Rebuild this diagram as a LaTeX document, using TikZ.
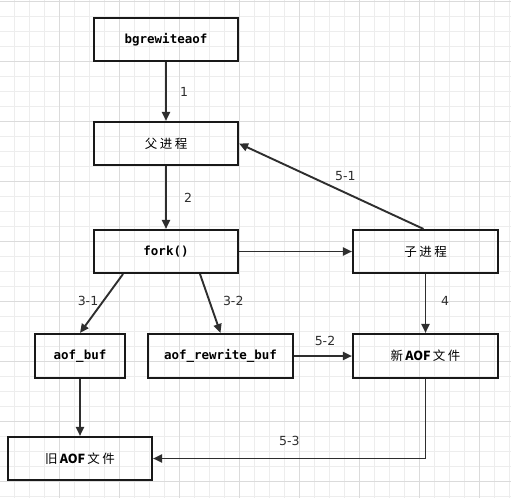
\documentclass[tikz,border=0pt]{standalone}
\usepackage{fontspec}
\setmainfont{DejaVu Sans}
\setmonofont{DejaVu Sans Mono}
\newfontfamily\cjk[LetterSpace=20]{Noto Sans CJK SC}
\newfontfamily\cjklat{Noto Sans CJK SC}
\usetikzlibrary{arrows.meta}
\definecolor{gridminor}{gray}{0.93}
\definecolor{gridmajor}{gray}{0.86}
\definecolor{linegray}{gray}{0.18}

\begin{document}
\begin{tikzpicture}[x=1pt, y=-1pt,
  box/.style={draw=black!90, line width=2.1pt, minimum width=144pt, minimum height=43pt, inner sep=0pt,
    font=\ttfamily\bfseries\fontsize{12.5}{14}\selectfont},
  cbox/.style={box, font=\cjk\fontsize{12.5}{14}\selectfont},
  flow/.style={draw=linegray, line width=1.9pt, -{Triangle[length=9pt,width=8pt]}},
  lbl/.style={font=\fontsize{12.5}{14}\selectfont, text=linegray, inner sep=0pt}]
\useasboundingbox (0,0) rectangle (511,498);
\fill[white] (0,0) rectangle (511,498);
\foreach \gx in {14,29,...,509} \draw[gridminor, line width=0.6pt] (\gx,0)--(\gx,498);
\foreach \gy in {1.7,16.7,...,497} \draw[gridminor, line width=0.6pt] (0,\gy)--(511,\gy);
\foreach \gx in {59,119,...,479} \draw[gridmajor, line width=0.6pt] (\gx,0)--(\gx,498);
\foreach \gy in {1.7,61.7,...,482} \draw[gridmajor, line width=0.6pt] (0,\gy)--(511,\gy);

\node[box] (bgr) at (166,39.5) {bgrewiteaof};
\node[cbox] (parent) at (166,143.5) {父进程};
\node[box] (fork) at (166,251.5) {fork()};
\node[cbox, minimum width=145pt] (child) at (425.5,251.5) {子进程};
\node[box, minimum width=90pt, minimum height=44pt] (aofbuf) at (80,356) {aof\_buf};
\node[box, minimum width=145pt, minimum height=44pt] (rewritebuf) at (220.5,356) {aof\_rewrite\_buf};
\node[cbox, minimum width=145pt, minimum height=44pt] (newaof) at (425.5,356) {新\,{\cjklat\bfseries AOF}\,文件};
\node[cbox] (oldaof) at (80,458.5) {旧\,{\cjklat\bfseries AOF}\,文件};

\draw[flow] (bgr) -- (parent) node[lbl, midway, xshift=18pt] (l1) {1};
\draw[flow] (parent) -- (fork) node[lbl, midway, xshift=22pt] (l2) {2};
\draw[flow] ([xshift=-2pt]child.north) -- (parent.east) node[lbl, midway, xshift=14pt, yshift=10pt] (l51) {5-1};
\draw[flow] (fork) -- (child);
\draw[flow] ([xshift=-43pt]fork.south) -- (aofbuf.north) node[lbl, midway, xshift=-13.5pt, yshift=2.5pt] (l31) {3-1};
\draw[flow] ([xshift=34pt]fork.south) -- (rewritebuf.north) node[lbl, midway, xshift=23pt, yshift=2.5pt] (l32) {3-2};
\draw[flow] (child) -- (newaof) node[lbl, midway, xshift=19.5pt, yshift=2.5pt] (l4) {4};
\draw[flow] (rewritebuf) -- (newaof) node[lbl, midway, xshift=2pt, yshift=15pt] (l52) {5-2};
\draw[flow] (aofbuf) -- (oldaof);
\draw[flow] (newaof.south) |- (oldaof.east) node[lbl, pos=0.75, yshift=17.5pt] (l53) {5-3};
\end{tikzpicture}
\end{document}
